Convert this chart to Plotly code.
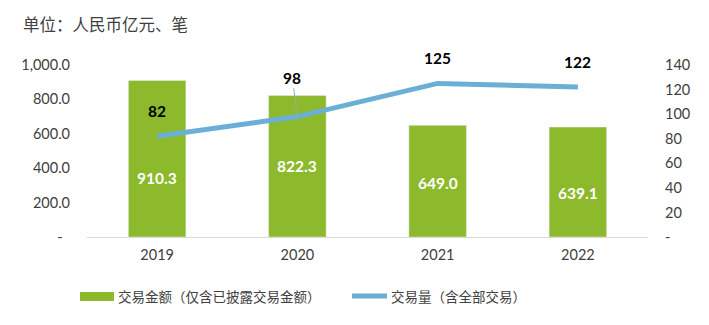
import plotly.graph_objects as go

# Annual data
years = ["2019", "2020", "2021", "2022"]
amount = [910.3, 822.3, 649.0, 639.1]        # 交易金额（亿元）
volume = [82, 98, 125, 122]                  # 交易量（笔）

left_ticks = [0, 200, 400, 600, 800, 1000]
left_ticktext = ["-\u00a0\u00a0", "200.0", "400.0", "600.0", "800.0", "1,000.0"]
right_ticks = [0, 20, 40, 60, 80, 100, 120, 140]
right_ticktext = ["-", "20", "40", "60", "80", "100", "120", "140"]

bar_name = "交易金额（仅含已披露交易金额）"
line_name = "交易量（含全部交易）"
title_text = "单位：人民币亿元、笔"

# label nudges in pixels
bar_label_dy = [-19, 0, -2, -11]

GREEN = "#8DB92C"
BLUE = "#6BAED6"
NUM_FONT = "Lato, 'Noto Sans', sans-serif"
CJK_FONT = "'Noto Sans CJK SC', sans-serif"

W, H = 709, 325
L, R, T, B = 87, 61, 65, 88
PW, PH = W - L - R, H - T - B


def px_x(px):
    return (px - L) / PW


def px_y(py):
    return (H - B - py) / PH


fig = go.Figure()
fig.add_trace(go.Bar(
    x=years, y=amount, name=bar_name, marker_color=GREEN,
    width=0.41, yaxis="y", showlegend=False,
))
fig.add_trace(go.Scatter(
    x=years, y=volume, name=line_name, mode="lines",
    line=dict(color=BLUE, width=5), yaxis="y2", showlegend=False,
))

annotations = []
# bar value labels (x given as category index)
for i, (v, dy) in enumerate(zip(amount, bar_label_dy)):
    annotations.append(dict(
        x=i, y=v / 2, xref="x", yref="y", text=f"<b>{v:.1f}</b>",
        showarrow=False, yshift=dy,
        font=dict(family=NUM_FONT, size=15.5, color="white"),
    ))
# line value labels
for i, v in enumerate(volume):
    if v == 98:
        annotations.append(dict(
            x=i, y=v, xref="x", yref="y2", text=f"<b>{v}</b>",
            showarrow=True, arrowhead=0, arrowwidth=1, arrowcolor="#A6A6A6",
            ax=-5, ay=-39, standoff=0,
            font=dict(family=NUM_FONT, size=15.5, color="black"),
        ))
    else:
        annotations.append(dict(
            x=i, y=v, xref="x", yref="y2", text=f"<b>{v}</b>",
            showarrow=False, yshift=25,
            font=dict(family=NUM_FONT, size=15.5, color="black"),
        ))

# legend drawn by hand
legend_y = px_y(296)
shapes = [
    dict(type="rect", xref="paper", yref="paper",
         x0=px_x(80), x1=px_x(114), y0=px_y(292), y1=px_y(301),
         fillcolor=GREEN, line=dict(width=0)),
    dict(type="line", xref="paper", yref="paper",
         x0=px_x(352), x1=px_x(387), y0=legend_y, y1=legend_y,
         line=dict(color=BLUE, width=5)),
]
annotations.append(dict(
    x=px_x(116), y=legend_y, xref="paper", yref="paper", text=bar_name,
    showarrow=False, xanchor="left", yanchor="middle",
    font=dict(family=CJK_FONT, size=13.5, color="#404040"),
))
annotations.append(dict(
    x=px_x(389), y=legend_y, xref="paper", yref="paper", text=line_name,
    showarrow=False, xanchor="left", yanchor="middle",
    font=dict(family=CJK_FONT, size=13.5, color="#404040"),
))

tick_font = dict(family=NUM_FONT, size=14.5, color="#404040")

fig.update_layout(
    width=W, height=H,
    margin=dict(l=L, r=R, t=T, b=B),
    paper_bgcolor="white", plot_bgcolor="white",
    title=dict(text=title_text, x=23 / W, y=1 - 25 / H,
               xanchor="left", yanchor="middle",
               font=dict(family=CJK_FONT, size=16.5, color="#404040")),
    xaxis=dict(type="category", showline=True, linecolor="#D9D9D9", linewidth=1,
               showgrid=False, ticks="", tickfont=tick_font,
               ticklabelstandoff=5, range=[-0.5, 3.5]),
    yaxis=dict(range=[0, 1000], tickvals=left_ticks, ticktext=left_ticktext,
               showgrid=False, zeroline=False, showline=False, ticks="",
               tickfont=tick_font, ticklabelstandoff=16),
    yaxis2=dict(range=[0, 140], tickvals=right_ticks, ticktext=right_ticktext,
                overlaying="y", side="right", showgrid=False, zeroline=False,
                showline=False, ticks="", tickfont=tick_font,
                ticklabelstandoff=16),
    annotations=annotations,
    shapes=shapes,
    bargap=0.59,
)

fig.write_html("out.html")
